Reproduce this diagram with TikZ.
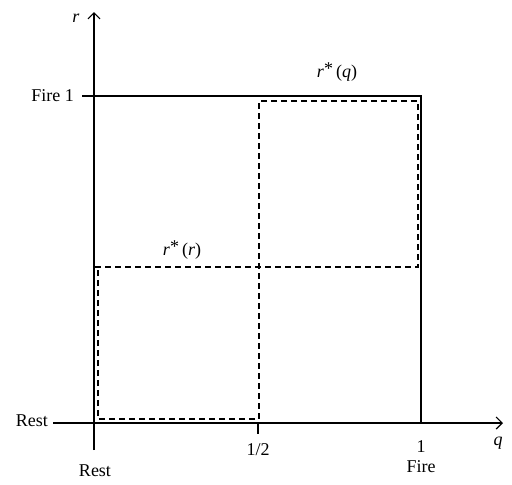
\documentclass[tikz,border=0pt]{standalone}
\usepackage{fontspec}
\setmainfont{Liberation Serif}
\usetikzlibrary{arrows.meta}
\newcommand{\ivar}[1]{\textit{#1}}
\begin{document}
\begin{tikzpicture}[x=1pt,y=-1pt,
  lbl/.style={font=\fontsize{18}{21}\selectfont, inner sep=0pt},
  axis/.style={line width=1.2pt, -{Straight Barb[length=6pt,width=12pt]}},
  solid line/.style={line width=1.2pt},
  dline/.style={line width=1.2pt, dash pattern=on 6pt off 4pt}]
\useasboundingbox (0,0) rectangle (512,485);
% coordinates
\coordinate (O) at (94,423);
\coordinate (yb) at (94,450);
\coordinate (yt) at (94,12);
\coordinate (xl) at (53,423);
\coordinate (xr) at (503,423);
\coordinate (F1l) at (82,96);
\coordinate (F1r) at (421,96);
\coordinate (F1b) at (421,423);
\coordinate (Ht) at (258,423);
\coordinate (Hb) at (258,434);
% axes
\draw[axis] (yb) -- (yt);
\draw[axis] (xl) -- (xr);
\draw[solid line] (F1l) -- (F1r) -- (F1b);
\draw[solid line] (Ht) -- (Hb);
% dashed
\coordinate (a1) at (95,267);
\coordinate (a2) at (418,267);
\coordinate (b1) at (259,101);
\coordinate (b2) at (418,101);
\coordinate (c1) at (259,419);
\coordinate (c2) at (98,419);
\coordinate (c3) at (98,267);
\draw[dline] (a1) -- (a2) -- (b2) -- (b1) -- (c1) -- (c2) -- (c3);
% labels
\node[lbl] (r) at (76,18) {\ivar{r}};
\node[lbl, anchor=east] (fire1) at (74,96) {Fire 1};
\node[lbl] (rq) at (337,72) {\ivar{r}\raisebox{0.45ex}{*}\,(\ivar{q})};
\node[lbl] (rr) at (182,250) {\ivar{r}\raisebox{0.45ex}{*}\,(\ivar{r})};
\node[lbl, anchor=east] (restl) at (48,421) {Rest};
\node[lbl] (restb) at (95,471) {Rest};
\node[lbl] (half) at (258,450) {1/2};
\node[lbl] (one) at (421,447) {1};
\node[lbl] (fire) at (421,467) {Fire};
\node[lbl] (q) at (498,443) {\ivar{q}};
\end{tikzpicture}
\end{document}
